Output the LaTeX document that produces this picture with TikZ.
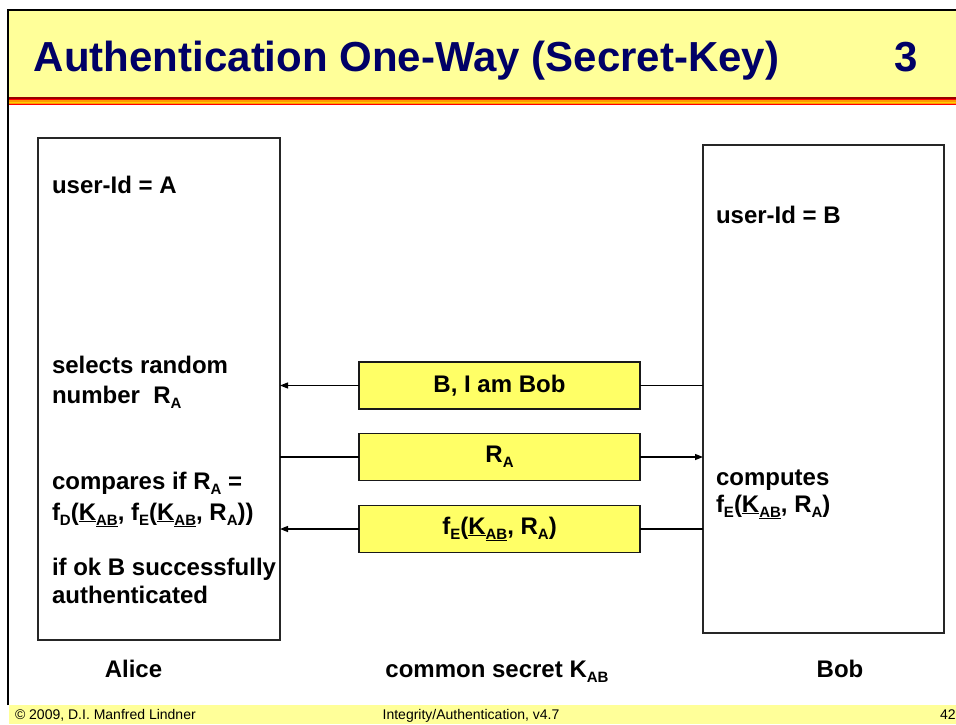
\documentclass[tikz,border=0pt]{standalone}
\usepackage{fontspec}
\setmainfont{Liberation Sans}
\usetikzlibrary{arrows.meta}
\definecolor{headyellow}{HTML}{FFFF99}
\definecolor{msgyellow}{HTML}{FFFF66}
\definecolor{titleblue}{HTML}{000066}
\definecolor{stripeA}{HTML}{990000}
\definecolor{stripeB}{HTML}{FF0000}
\definecolor{stripeC}{HTML}{FF9900}
\definecolor{stripeD}{HTML}{FFCC00}
% lowered subscript in the body font
\newcommand\lsub[1]{\raisebox{-5pt}{\fontsize{15}{15}\selectfont #1}}
% the shared key, underlined
\newcommand\keyAB{\underline{K}\lsub{\underline{AB}}}
\tikzset{
  partybox/.style={draw=black!85, line width=1.6pt, fill=white, minimum width=#1},
  msgbox/.style={draw=black!90, line width=1.8pt, fill=msgyellow, minimum width=281pt, minimum height=47pt, font=\bfseries\fontsize{24}{28}\selectfont},
  msgline/.style={draw=black, line width=1.3pt},
  msgarrow/.style={msgline, -{Triangle[length=8pt,width=6pt]}},
  % multi-line nodes are placed by the baseline of their last line
  bodytext/.style={anchor=base west, align=left, font=\bfseries\fontsize{24}{#1}\selectfont},
  bodytext/.default=30,
  labeltext/.style={anchor=base, font=\bfseries\fontsize{24}{28}\selectfont},
  foottext/.style={anchor=base, font=\fontsize{14}{14}\selectfont}
}
\begin{document}
\begin{tikzpicture}[x=1pt, y=-1pt, every node/.style={inner sep=0pt, outer sep=0pt}]
\useasboundingbox (0,0) rectangle (956,724);
\fill[white] (0,0) rectangle (956,724);

% header band and coloured rule
\fill[headyellow] (9,11) rectangle (956,97);
\fill[stripeA] (9,97) rectangle (956,98.5);
\fill[stripeB] (9,98.5) rectangle (956,100);
\fill[stripeC] (9,100) rectangle (956,101.5);
\fill[stripeD] (9,101.5) rectangle (956,102.8);
\fill[stripeC] (9,102.8) rectangle (956,104);
\fill[stripeB] (9,104) rectangle (956,105);

% footer band
\fill[headyellow] (9,705) rectangle (956,724);

% slide frame
\draw[line width=2.5pt] (8,705) -- (8,10) -- (956,10);

% title
\node[anchor=base west, font=\bfseries\fontsize{42}{46}\selectfont, text=titleblue] (title) at (34,71) {Authentication One-Way (Secret-Key)};
\node[anchor=base east, font=\bfseries\fontsize{42}{46}\selectfont, text=titleblue] (num) at (918,71) {3};

% the two parties
\node[partybox=242pt, minimum height=502pt] (alice) at (159,389) {};
\node[partybox=241pt, minimum height=488pt] (bob) at (823.5,389) {};

% messages
\node[msgbox] (m1) at (499.5,385.5) {B, I am Bob};
\node[msgbox] (m2) at (499.5,457) {R\lsub{A}};
\node[msgbox] (m3) at (499.5,529) {f\lsub{E}(\keyAB, R\lsub{A})};

\draw[msgline] (m1.east) -- (bob.west |- m1.east);
\draw[msgarrow] (m1.west) -- (alice.east |- m1.west);
\draw[msgline] (m2.west) -- (alice.east |- m2.west);
\draw[msgarrow] (m2.east) -- (bob.west |- m2.east);
\draw[msgline] (m3.east) -- (bob.west |- m3.east);
\draw[msgarrow] (m3.west) -- (alice.east |- m3.west);

% Alice's steps
\node[bodytext] (aid) at (52,193) {user-Id = A};
\node[bodytext=30] (asel) at (52,403) {selects random\\number~ R\lsub{A}};
\node[bodytext=31] (acmp) at (52,520) {compares if R\lsub{A} =\\f\lsub{D}(\keyAB, f\lsub{E}(\keyAB, R\lsub{A}))};
\node[bodytext=28] (aok) at (52,603) {if ok B successfully\\authenticated};

% Bob's steps
\node[bodytext] (bid) at (716,223) {user-Id = B};
\node[bodytext=27] (bcmp) at (716,512) {computes\\f\lsub{E}(\keyAB, R\lsub{A})};

% captions
\node[labeltext] (lalice) at (133.5,677) {Alice};
\node[labeltext] (lkey) at (497,677) {common secret K\lsub{AB}};
\node[labeltext] (lbob) at (840,677) {Bob};

% footer
\node[foottext, anchor=base west] (fcopy) at (15,719) {© 2009, D.I. Manfred Lindner};
\node[foottext] (ftopic) at (471,719) {Integrity/Authentication, v4.7};
\node[foottext, anchor=base west] (fpage) at (940,719) {42};
\end{tikzpicture}
\end{document}
